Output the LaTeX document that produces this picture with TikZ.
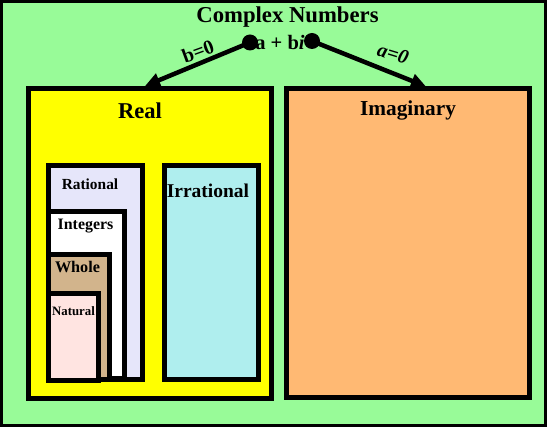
\documentclass[tikz,border=0pt]{standalone}
\usepackage{fontspec}
\setmainfont{Liberation Serif}
\usetikzlibrary{arrows.meta}

\definecolor{bggreen}{RGB}{152,251,152}
\definecolor{realyellow}{RGB}{255,255,0}
\definecolor{imagorange}{RGB}{255,185,115}
\definecolor{ratlav}{RGB}{230,230,250}
\definecolor{wholetan}{RGB}{210,180,140}
\definecolor{natrose}{RGB}{255,228,225}
\definecolor{irrturq}{RGB}{175,238,238}

\tikzset{
  setbox/.style={draw=black, line width=5pt, anchor=north west, inner sep=0pt, outer sep=0pt},
  lbl/.style={font=\bfseries, inner sep=0pt},
  dot/.style={circle, fill=black, minimum size=16pt, inner sep=0pt},
  arrowline/.style={line width=4.5pt, -{Triangle[length=15pt,width=14pt]}}
}

\begin{document}
\begin{tikzpicture}[x=1pt,y=-1pt]
  \useasboundingbox (0,0) rectangle (547,430);

  % background set: complex numbers
  \draw[fill=bggreen, line width=3pt] (1.5,1.5) rectangle (545.5,426);

  % real and imaginary parts
  \node[setbox, fill=realyellow, minimum width=242.3pt, minimum height=310pt] (real) at (28.7,89) {};
  \node[setbox, fill=imagorange, minimum width=243pt, minimum height=309pt] (imag) at (286,88.5) {};

  % nested subsets of the reals
  \node[setbox, fill=ratlav, minimum width=94pt, minimum height=214.5pt] (rational) at (48.5,165.5) {};
  \node[setbox, fill=white, minimum width=75.5pt, minimum height=167pt] (integers) at (48.5,212) {};
  \node[setbox, fill=wholetan, minimum width=61pt, minimum height=125pt] (whole) at (48.5,255) {};
  \node[setbox, fill=natrose, minimum width=49.5pt, minimum height=86.5pt] (natural) at (48.5,294) {};
  \node[setbox, fill=irrturq, minimum width=94pt, minimum height=214.5pt] (irrational) at (164,165.5) {};

  % labels
  \node[lbl, font=\bfseries\fontsize{22.7}{22.7}\selectfont] (ttl) at (287.5,17.5) {Complex Numbers};
  \node[lbl, font=\bfseries\fontsize{20.5}{20.5}\selectfont] (form) at (280,42) {a + b\textit{i}};
  \node[lbl, font=\bfseries\fontsize{22.6}{22.6}\selectfont] (lreal) at (140,111) {Real};
  \node[lbl, font=\bfseries\fontsize{21.3}{21.3}\selectfont] (limag) at (408,110.5) {Imaginary};
  \node[lbl, font=\bfseries\fontsize{15.4}{15.4}\selectfont] (lrat) at (90,184) {Rational};
  \node[lbl, font=\bfseries\fontsize{15.9}{15.9}\selectfont] (lint) at (85.5,226.5) {Integers};
  \node[lbl, font=\bfseries\fontsize{16.2}{16.2}\selectfont] (lwhole) at (77.5,267.5) {Whole};
  \node[lbl, font=\bfseries\fontsize{12.8}{12.8}\selectfont] (lnat) at (73.5,311.5) {Natural};
  \node[lbl, font=\bfseries\fontsize{19.5}{19.5}\selectfont] (lirr) at (208,191) {Irrational};

  % branching arrows
  \node[dot] (dl) at (250,42.5) {};
  \node[dot] (dr) at (312,41) {};
  \coordinate (tl) at (145,86);
  \coordinate (tr) at (426,86.5);
  \draw[arrowline] (dl.center) -- (tl);
  \draw[arrowline] (dr.center) -- (tr);
  \node[lbl, font=\bfseries\fontsize{20}{20}\selectfont, rotate=20] (bz) at (198,51.5) {b=0};
  \node[lbl, font=\bfseries\itshape\fontsize{20}{20}\selectfont, rotate=-17] (az) at (393,54) {a=0};
\end{tikzpicture}
\end{document}
